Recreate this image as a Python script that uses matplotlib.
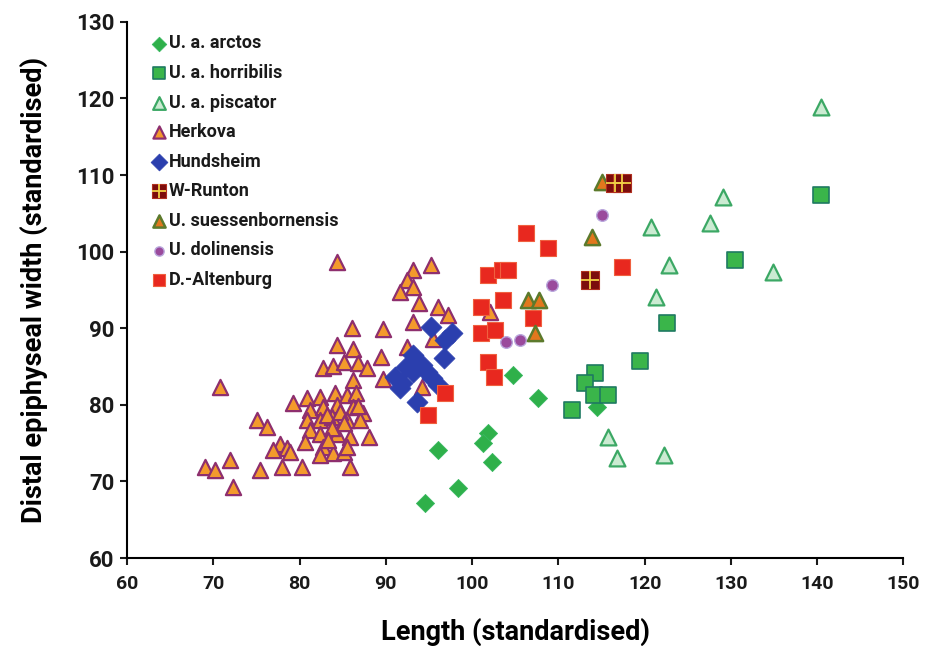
import matplotlib
matplotlib.use("Agg")
import matplotlib.pyplot as plt
from matplotlib.legend_handler import HandlerTuple

plt.rcParams['font.family'] = ['Roboto', 'DejaVu Sans']

# data (length, width)
arctos_x = [104.8, 107.6, 101.9, 101.3, 102.3, 96.0, 98.4, 94.6, 114.5]
arctos_y = [83.9, 80.9, 76.3, 75.0, 72.5, 74.1, 69.1, 67.2, 79.7]

horr_x = [140.4, 130.5, 122.6, 119.5, 114.3, 113.1, 114.1, 115.7, 111.6]
horr_y = [107.4, 98.9, 90.7, 85.7, 84.2, 82.8, 81.3, 81.3, 79.3]

pisc_x = [140.4, 129.1, 120.7, 127.6, 122.8, 134.9, 121.3, 115.7, 116.8, 122.2]
pisc_y = [118.9, 107.1, 103.2, 103.7, 98.3, 97.3, 94.1, 75.8, 73.1, 73.4]

herk_x = [84.4, 93.2, 95.2, 92.5, 91.7, 93.2, 93.8, 96.0, 97.2, 93.2,
          86.1, 89.7, 84.4, 86.2, 89.4, 92.5, 95.5, 82.7, 83.9, 85.1,
          86.8, 87.8, 86.2, 89.7, 70.8, 79.3, 80.9, 82.4, 84.1, 85.5,
          86.5, 81.2, 82.7, 84.4, 86.2, 87.4, 80.9, 82.4, 83.8, 85.5,
          87.0, 75.1, 76.2, 77.7, 78.6, 76.9, 81.2, 82.4, 84.4, 85.9,
          88.0, 82.7, 83.9, 85.1, 71.9, 69.0, 70.2, 75.4, 78.0, 80.3,
          85.9, 72.3, 94.2, 102.1, 83.2, 84.7, 85.1, 83.8, 83.3, 80.6,
          85.5, 78.9, 86.8, 82.4]
herk_y = [98.6, 97.6, 98.3, 96.3, 94.7, 95.4, 93.3, 92.8, 91.7, 90.8,
          90.0, 89.9, 87.8, 87.3, 86.2, 87.5, 88.6, 84.8, 85.1, 85.6,
          85.5, 84.8, 83.2, 83.4, 82.3, 80.2, 80.9, 81.0, 81.5, 81.3,
          81.5, 79.3, 79.7, 80.0, 79.7, 78.9, 78.0, 78.0, 78.4, 78.0,
          78.0, 78.0, 77.1, 74.9, 74.4, 74.1, 76.7, 76.2, 76.2, 75.8,
          75.8, 74.5, 73.7, 73.8, 72.8, 71.9, 71.5, 71.5, 71.9, 71.9,
          71.9, 69.3, 82.3, 92.1, 78.7, 79.1, 77.6, 77.0, 75.4, 75.1,
          74.5, 73.8, 79.8, 73.4]

hund_x = [95.2, 97.7, 96.9, 96.7, 93.1, 92.3, 91.1, 91.9, 93.2, 94.2,
          94.8, 95.4, 96.0, 93.6, 91.7]
hund_y = [90.2, 89.4, 88.5, 86.1, 86.5, 84.9, 83.6, 82.8, 84.3, 85.2,
          84.3, 83.5, 82.6, 80.4, 82.2]

runton_x = [116.6, 117.4, 113.7]
runton_y = [109.0, 109.0, 96.3]

suess_x = [115.1, 113.9, 106.5, 107.7, 107.3]
suess_y = [109.1, 101.9, 93.7, 93.7, 89.4]

dolin_x = [115.1, 109.3, 103.9, 105.6]
dolin_y = [104.8, 95.6, 88.2, 88.5]

alten_x = [106.3, 108.8, 101.9, 103.5, 104.2, 101.0, 103.6, 107.1, 101.0,
           102.7, 101.9, 102.5, 96.9, 94.9, 117.4]
alten_y = [102.4, 100.5, 96.9, 97.6, 97.6, 92.8, 93.7, 91.3, 89.4,
           89.8, 85.6, 83.6, 81.5, 78.7, 98.0]

fig = plt.figure(figsize=(9.31, 6.46), dpi=100)
ax = fig.add_axes([0.1364, 0.1362, 0.834, 0.830])

h_herk = ax.scatter(herk_x, herk_y, marker='^', s=120, c='#f39a2c',
                    edgecolors='#8e2f6e', linewidths=1.6, zorder=2)
h_hund = ax.scatter(hund_x, hund_y, marker='D', s=115, c='#2b3fae',
                    edgecolors='#2b3fae', linewidths=0.5, zorder=3)
h_alt = ax.scatter(alten_x, alten_y, marker='s', s=120, c='#e8281f',
                   edgecolors='#f06040', linewidths=0.8, zorder=3)
h_arc = ax.scatter(arctos_x, arctos_y, marker='D', s=85, c='#2fb04a',
                   edgecolors='#38b860', linewidths=0.6, zorder=2)
h_hor = ax.scatter(horr_x, horr_y, marker='s', s=130, c='#3ab54a',
                   edgecolors='#1f7a62', linewidths=1.2, zorder=3)
h_pis = ax.scatter(pisc_x, pisc_y, marker='^', s=130, c='#cbebd2',
                   edgecolors='#3ca865', linewidths=1.6, zorder=3)
h_dol = ax.scatter(dolin_x, dolin_y, marker='o', s=70, c='#9a4a9c',
                   edgecolors='#b9a6dc', linewidths=1.0, zorder=4)
h_sue = ax.scatter(suess_x, suess_y, marker='^', s=120, c='#e2771d',
                   edgecolors='#5c7a2c', linewidths=1.8, zorder=4)
h_run = ax.scatter(runton_x, runton_y, marker='s', s=150, c='#7c0c0c',
                   edgecolors='#b03020', linewidths=0.8, zorder=5)
h_runx = ax.scatter(runton_x, runton_y, marker='+', s=150, c='#f2cf45',
                    linewidths=1.3, zorder=6)

handles = [h_arc, h_hor, h_pis, h_herk, h_hund, (h_run, h_runx), h_sue, h_dol, h_alt]
labels = ['U. a. arctos', 'U. a. horribilis', 'U. a. piscator', 'Herkova',
          'Hundsheim', 'W-Runton', 'U. suessenbornensis', 'U. dolinensis',
          'D.-Altenburg']
leg = ax.legend(handles, labels, loc='upper left', bbox_to_anchor=(0.02, 0.99),
                frameon=False, handletextpad=0.05, labelspacing=0.64,
                handlelength=1.0, borderaxespad=0.0, markerscale=0.8,
                prop={'weight': 'bold', 'size': 13},
                handler_map={tuple: HandlerTuple(ndivide=1)})
for t in leg.get_texts():
    t.set_color('#1a1a1a')

ax.set_xlim(60, 150)
ax.set_ylim(60, 130)
ax.set_xticks(range(60, 151, 10))
ax.set_yticks(range(60, 131, 10))
ax.spines['top'].set_visible(False)
ax.spines['right'].set_visible(False)
ax.spines['left'].set_linewidth(1.5)
ax.spines['bottom'].set_linewidth(1.5)
ax.tick_params(direction='out', length=5, width=1.5, colors='#1a1a1a')
ax.tick_params(axis='x', labelsize=14, pad=7)
ax.tick_params(axis='y', labelsize=16, pad=4)
for lab in ax.get_xticklabels() + ax.get_yticklabels():
    lab.set_fontweight('bold')

ax.set_xlabel('Length (standardised)', fontsize=19.5, fontweight='bold', labelpad=18)
ax.set_ylabel('Distal epiphyseal width (standardised)', fontsize=19.5,
              fontweight='bold', labelpad=20)

fig.savefig('out.png', dpi=100)
